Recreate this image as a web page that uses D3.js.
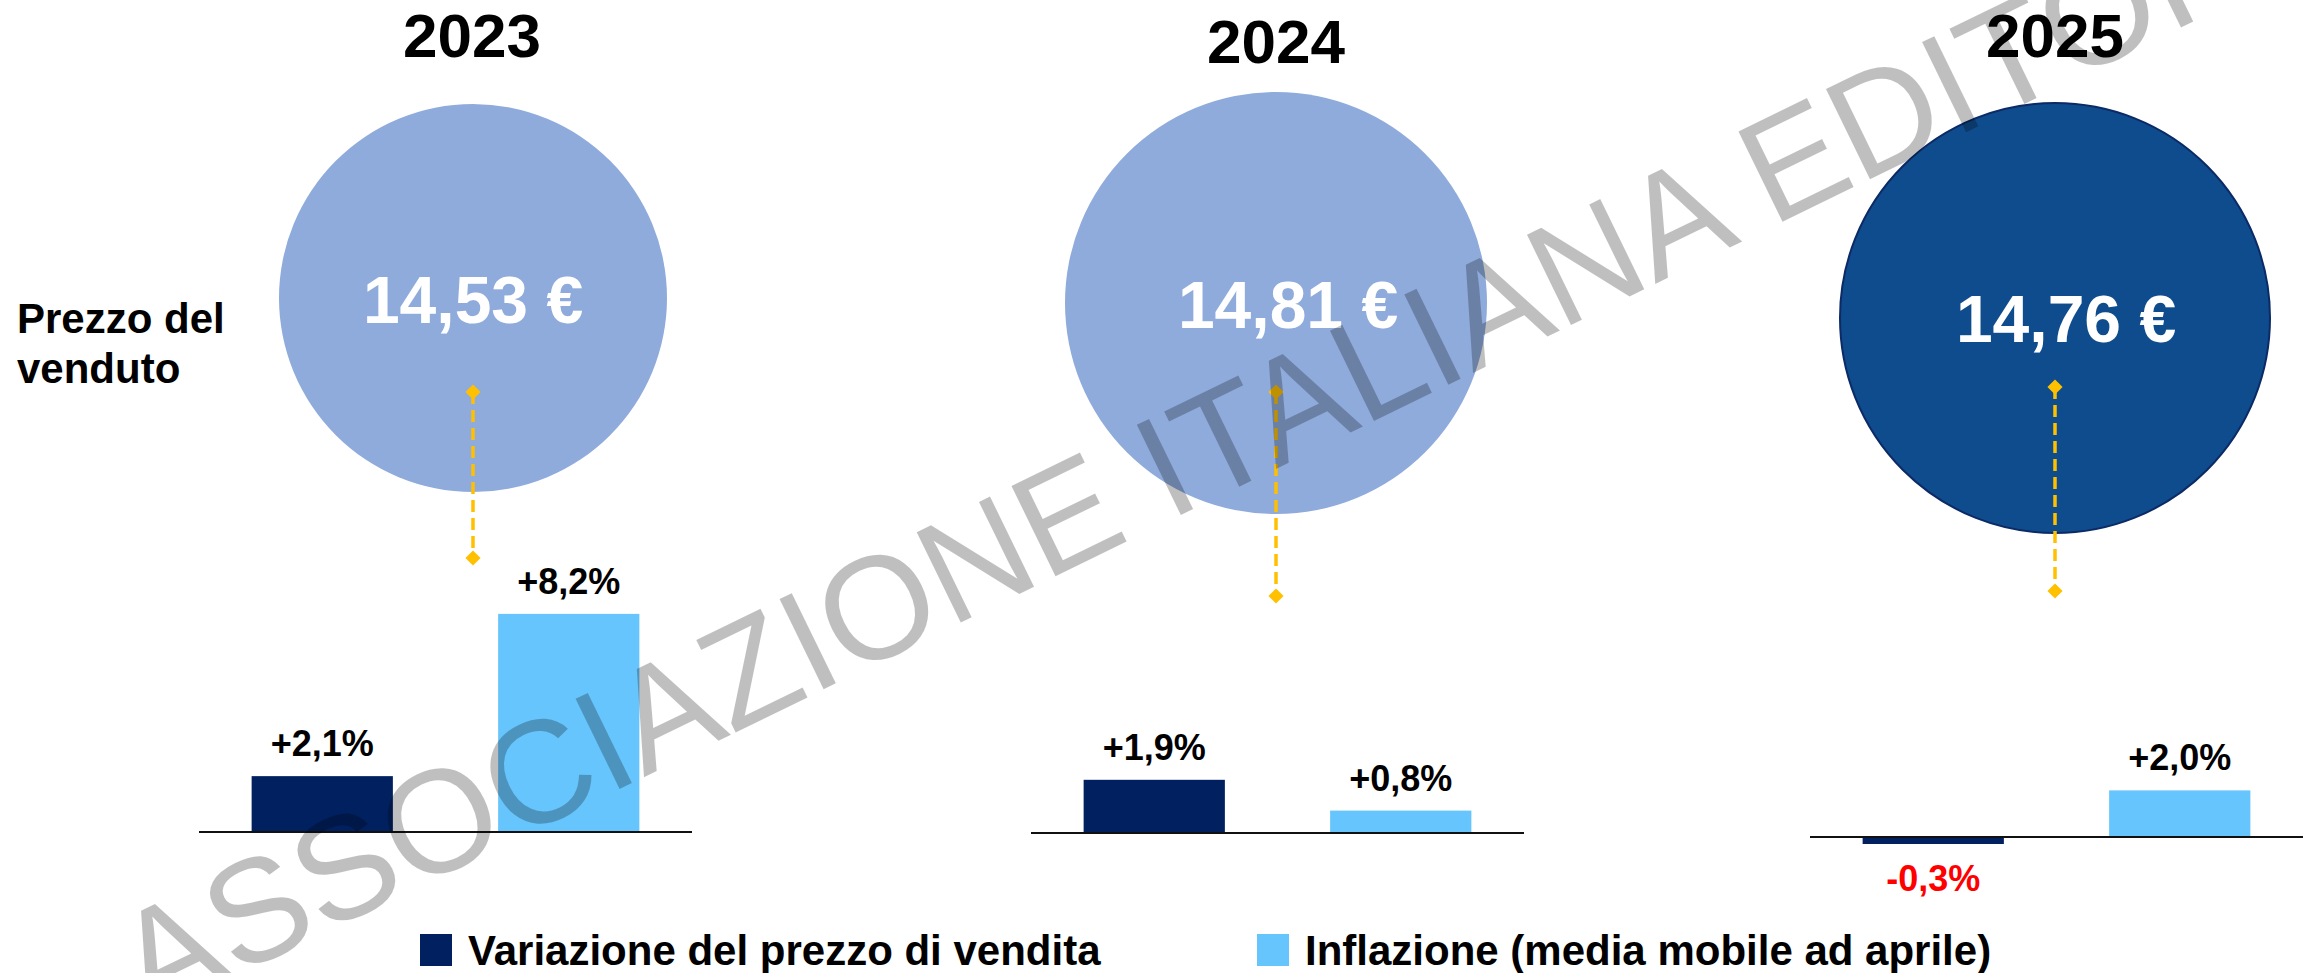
<!DOCTYPE html>
<html><head><meta charset="utf-8">
<script src="https://cdn.jsdelivr.net/npm/d3@7"></script>
<style>
html,body{margin:0;padding:0;background:#fff;overflow:hidden}
svg{display:block}
text{font-family:"Liberation Sans",Arial,Helvetica,sans-serif}
</style>
</head><body>
<svg id="chart" width="2313" height="973"></svg>
<script>
// ---------------- DATA ----------------
const years = ["2023", "2024", "2025"];
const prices = [14.53, 14.81, 14.76];            // Prezzo del venduto (€)
const priceChange = [2.1, 1.9, -0.3];            // Variazione del prezzo di vendita (%)
const inflation = [8.2, 0.8, 2.0];               // Inflazione (media mobile ad aprile) (%)
const seriesKeys = ["price", "inflation"];
const seriesNames = ["Variazione del prezzo di vendita", "Inflazione (media mobile ad aprile)"];
const rowLabel = ["Prezzo del", "venduto"];
const watermarkText = "ASSOCIAZIONE ITALIANA EDITORI";

// ---------------- LAYOUT / STYLE ----------------
const W = 2313, H = 973;
const L = {
  titleCx: [472, 1276, 2055], titleBase: [57, 63, 57],
  circleCx: [473, 1276, 2055], circleCy: [298, 303, 318], circleR: [194, 211, 215],
  valueDx: [0, 12, 11], valueBase: [323, 328, 342],
  dashTop: [392, 392, 387], dashBottom: [558, 596, 591],
  axisX0: [199, 1031, 1810], axisW: 493, baseline: [832, 833, 837],
  pxPerPoint: [26.6, 28.0, 23.3]
};
const colors = {
  circle: ["#8FABDC", "#8FABDC", "#0F4C8D"], circleStroke: [null, null, "#0B2A66"],
  price: "#002060", inflation: "#66C5FC", dash: "#FFC000", neg: "#FF0000"
};
const FONT = '"Liberation Sans",Arial,Helvetica,sans-serif';

const it = d3.formatLocale({decimal: ",", thousands: ".", grouping: [3], currency: ["", " €"], minus: "-"});
const fmtPct = v => it.format("+.1f")(v) + "%";
const fmtEur = v => it.format(".2f")(v) + " €";

const svg = d3.select("#chart");

// scales for the year panels
const cx = d3.scaleOrdinal().domain(years).range(L.circleCx);
const cy = d3.scaleOrdinal().domain(years).range(L.circleCy);
const cr = d3.scaleOrdinal().domain(years).range(L.circleR);

// ---------- titles ----------
svg.append("g").selectAll("text").data(years).join("text")
  .attr("x", (d, i) => L.titleCx[i]).attr("y", (d, i) => L.titleBase[i])
  .attr("text-anchor", "middle").attr("font-size", 62).attr("font-weight", "bold")
  .attr("fill", "#000").text(d => d);

// ---------- row label ----------
svg.append("text").attr("x", 17).attr("y", 333)
  .attr("font-size", 42).attr("font-weight", "bold").attr("fill", "#000")
  .selectAll("tspan").data(rowLabel).join("tspan")
  .attr("x", 17).attr("dy", (d, i) => i === 0 ? 0 : 50).text(d => d);

// ---------- circles ----------
const cg = svg.append("g");
cg.selectAll("circle").data(years).join("circle")
  .attr("cx", d => cx(d)).attr("cy", d => cy(d)).attr("r", d => cr(d))
  .attr("fill", (d, i) => colors.circle[i])
  .attr("stroke", (d, i) => colors.circleStroke[i] || "none")
  .attr("stroke-width", 2);
cg.selectAll("text").data(prices).join("text")
  .attr("x", (d, i) => L.circleCx[i] + L.valueDx[i]).attr("y", (d, i) => L.valueBase[i])
  .attr("text-anchor", "middle").attr("font-size", 66).attr("font-weight", "bold")
  .attr("fill", "#fff").text(d => fmtEur(d));

// ---------- dashed connectors ----------
const diamond = d3.symbol(d3.symbolSquare, 115);
const dg = svg.append("g");
years.forEach((y, i) => {
  const x = cx(y);
  dg.append("line").attr("x1", x).attr("x2", x)
    .attr("y1", L.dashTop[i]).attr("y2", L.dashBottom[i])
    .attr("stroke", colors.dash).attr("stroke-width", 3.5).attr("stroke-dasharray", "12,6");
  [L.dashTop[i], L.dashBottom[i]].forEach(yy => {
    dg.append("path").attr("d", diamond())
      .attr("transform", `translate(${x},${yy}) rotate(45)`).attr("fill", colors.dash);
  });
});

// ---------- bars ----------
const bg = svg.append("g");
years.forEach((yr, i) => {
  const x = d3.scaleBand().domain(seriesKeys)
    .range([L.axisX0[i], L.axisX0[i] + L.axisW]).paddingInner(0.427).paddingOuter(0.2135);
  const y = d3.scaleLinear().domain([0, 1]).range([L.baseline[i], L.baseline[i] - L.pxPerPoint[i]]);
  const vals = [{k: "price", v: priceChange[i]}, {k: "inflation", v: inflation[i]}];
  const g = bg.append("g");
  g.selectAll("rect").data(vals).join("rect")
    .attr("x", d => x(d.k)).attr("width", x.bandwidth())
    .attr("y", d => Math.min(y(d.v), y(0)))
    .attr("height", d => Math.abs(y(d.v) - y(0)))
    .attr("fill", d => colors[d.k]);
  g.append("line").attr("x1", L.axisX0[i]).attr("x2", L.axisX0[i] + L.axisW)
    .attr("y1", y(0)).attr("y2", y(0)).attr("stroke", "#111").attr("stroke-width", 2);
  g.selectAll("text").data(vals).join("text")
    .attr("x", d => x(d.k) + x.bandwidth() / 2)
    .attr("y", d => d.v >= 0 ? y(d.v) - 20 : y(d.v) + 47)
    .attr("text-anchor", "middle").attr("font-size", 36).attr("font-weight", "bold")
    .attr("fill", d => d.v >= 0 ? "#000" : colors.neg)
    .text(d => fmtPct(d.v));
});

// ---------- legend ----------
const legendX = [420, 1257];
const lg = svg.append("g");
seriesKeys.forEach((k, i) => {
  lg.append("rect").attr("x", legendX[i]).attr("y", 934).attr("width", 32).attr("height", 32)
    .attr("fill", colors[k]);
  lg.append("text").attr("x", legendX[i] + 48).attr("y", 965)
    .attr("font-size", 42).attr("font-weight", "bold").attr("fill", "#000")
    .text(seriesNames[i]);
});

// ---------- watermark ----------
svg.append("text")
  .attr("transform", "translate(148,1019) rotate(-26)")
  .attr("font-size", 146).attr("font-weight", "normal")
  .attr("fill", "#000").attr("fill-opacity", 0.25)
  .text(watermarkText);
</script>
</body></html>
